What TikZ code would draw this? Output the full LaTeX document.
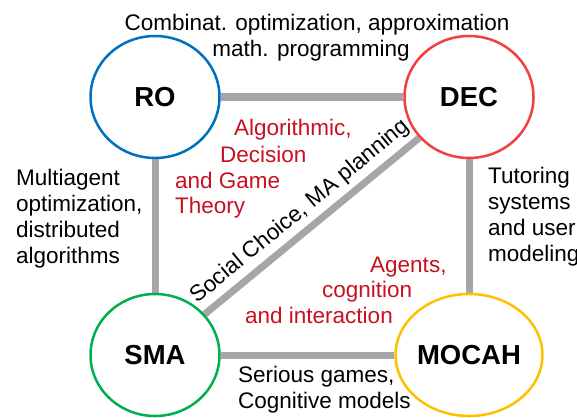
\documentclass[tikz,border=0pt]{standalone}
\usepackage{fontspec}
\setmainfont{Liberation Sans}
\usetikzlibrary{shapes.geometric,backgrounds}
\definecolor{roblue}{RGB}{0,112,192}
\definecolor{decred}{RGB}{240,64,64}
\definecolor{smagreen}{RGB}{0,176,80}
\definecolor{mocahgold}{RGB}{255,192,0}
\definecolor{linkgray}{RGB}{166,166,170}
\definecolor{darkred}{RGB}{200,16,32}
\tikzset{
  field/.style={ellipse, draw, line width=2.5pt, fill=white, minimum width=129pt, minimum height=122pt, inner sep=0pt,
    font=\fontsize{27.5}{30}\selectfont\bfseries},
  link/.style={draw=linkgray, line width=7pt},
  lbl/.style={inner sep=0pt, font=\fontsize{22.5}{26}\selectfont, text=black},
  rlbl/.style={lbl, text=darkred}
}
\begin{document}
\begin{tikzpicture}[x=1pt,y=-1pt]
\useasboundingbox (0,0) rectangle (577,417);
\node[field, draw=roblue] (ro) at (155,97) {RO};
\node[field, draw=decred] (dec) at (469,97) {DEC};
\node[field, draw=smagreen] (sma) at (155,355) {SMA};
\node[field, draw=mocahgold] (mocah) at (469,355) {MOCAH};
\begin{scope}[on background layer]
\draw[link] (ro) -- (dec);
\draw[link] (ro) -- (sma);
\draw[link] (dec) -- (mocah);
\draw[link] (sma) -- (mocah);
\draw[link] (sma) -- node[lbl, midway, sloped, above=4.5pt] (diag) {Social Choice, MA planning} (dec);
\end{scope}
% top
\node[lbl, anchor=base] (t1) at (317,31) {Combinat. optimization, approximation};
\node[lbl, anchor=base] (t2) at (311,57) {math. programming};
% left
\node[lbl, anchor=base west] (l1) at (16,185) {Multiagent};
\node[lbl, anchor=base west] (l2) at (16,211) {optimization,};
\node[lbl, anchor=base west] (l3) at (16,237) {distributed};
\node[lbl, anchor=base west] (l4) at (16,263) {algorithms};
% right
\node[lbl, anchor=base west] (r1) at (488,183) {Tutoring};
\node[lbl, anchor=base west] (r2) at (488,209) {systems};
\node[lbl, anchor=base west] (r3) at (488,235) {and user};
\node[lbl, anchor=base west] (r4) at (488,261) {modeling};
% bottom
\node[lbl, anchor=base west] (b1) at (238,382) {Serious games,};
\node[lbl, anchor=base west] (b2) at (238,408) {Cognitive models};
% red upper
\node[rlbl, anchor=base west] (a1) at (234,135) {Algorithmic,};
\node[rlbl, anchor=base west] (a2) at (220,162) {Decision};
\node[rlbl, anchor=base west] (a3) at (175,188) {and Game};
\node[rlbl, anchor=base west] (a4) at (175,213) {Theory};
% red lower
\node[rlbl, anchor=base west] (g1) at (370,272) {Agents,};
\node[rlbl, anchor=base west] (g2) at (322,297) {cognition};
\node[rlbl, anchor=base west] (g3) at (245,323) {and interaction};
\end{tikzpicture}
\end{document}
